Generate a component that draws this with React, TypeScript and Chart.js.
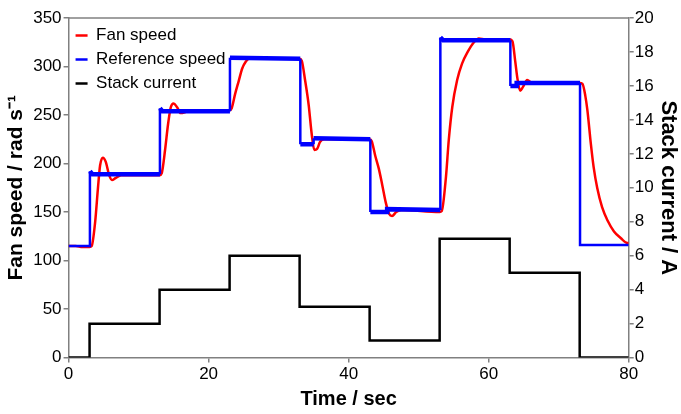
import React, { useEffect, useRef } from "react";
import { Chart, registerables } from "chart.js";

Chart.register(...registerables);

// Fan speed (red)
const fanTime = [0, 1, 2, 3, 3.3, 3.8, 4.2, 4.5, 4.9, 5.3, 5.8, 6.2, 6.7, 7.5, 13, 13.3, 13.8, 14.2, 14.6, 15.0, 15.5, 16.0, 16.7, 17.5, 23.0, 23.3, 23.8, 24.3, 24.8, 25.3, 25.8, 33.0, 33.3, 33.8, 34.3, 34.7, 35.1, 35.5, 35.9, 36.5, 43.0, 43.3, 43.8, 44.3, 44.8, 45.3, 45.8, 46.2, 46.8, 47.5, 53.0, 53.3, 53.9, 54.3, 54.8, 55.5, 56.2, 57.0, 57.9, 58.6, 59.5, 63.0, 63.4, 63.8, 64.1, 64.5, 64.9, 65.5, 66.2, 73.0, 73.4, 73.8, 74.1, 74.6, 75.0, 75.5, 76.2, 77.0, 77.9, 78.9, 79.8, 80];
const fanSpeed = [115, 115, 114, 114, 115, 140, 175, 198, 206, 202, 188, 183, 185, 188, 188, 190, 215, 240, 258, 262, 258, 252, 253, 255, 255, 257, 272, 285, 298, 305, 308, 308, 306, 285, 260, 232, 214, 215, 222, 225, 225, 223, 208, 195, 178, 160, 148, 146, 150, 152, 150, 151, 186, 224, 258, 286, 303, 315, 325, 329, 328, 328, 326, 305, 288, 275, 279, 286, 283, 283, 282, 270, 255, 220, 196, 175, 155, 141, 130, 123, 118, 118];

// Reference speed (blue)
const refTime = [0, 3.05, 3.05, 3.4, 13.05, 13.05, 13.4, 23.05, 23.05, 33.1, 33.1, 35.0, 35.0, 43.1, 43.1, 45.5, 45.5, 53.1, 53.1, 53.5, 63.1, 63.1, 64.0, 64.0, 73.05, 73.05, 80];
const refSpeed = [115, 115, 192, 189, 189, 257, 254, 254, 309, 308, 220, 220, 226, 225, 150, 150, 153, 152, 330, 327, 327, 280, 280, 283, 283, 116, 116];

// Stack current (black, right axis)
const currentTime = [0, 3, 13, 23, 33, 43, 53, 63, 73, 80];
const currentValue = [0, 2, 4, 6, 3, 1, 7, 5, 0, 0];

const xTicks = [0, 20, 40, 60, 80];

const frame = {
  id: "frame",
  afterDraw(chart: any) {
    const { ctx, chartArea } = chart;
    ctx.save();
    ctx.strokeStyle = "#808080";
    ctx.lineWidth = 1.5;
    ctx.beginPath();
    ctx.moveTo(chartArea.left, chartArea.top);
    ctx.lineTo(chartArea.right, chartArea.top);
    ctx.stroke();
    ctx.restore();
  },
};

export default function App() {
  const ref = useRef<HTMLCanvasElement>(null);
  useEffect(() => {
    const font = "'Liberation Sans', Arial, sans-serif";
    const axisGrid = {
      display: true,
      drawOnChartArea: false,
      drawTicks: true,
      tickLength: 5,
      color: "#808080",
      lineWidth: 1.5,
    };
    const border = { display: true, color: "#808080", width: 1.5 };
    const chart = new Chart(ref.current!, {
      type: "line",
      data: {
        datasets: [
          {
            label: "Fan speed",
            data: fanTime.map((x, i) => ({ x, y: fanSpeed[i] })),
            borderColor: "#ff0000",
            backgroundColor: "#ff0000",
            borderWidth: 2.5,
            pointRadius: 0,
            cubicInterpolationMode: "monotone",
            yAxisID: "y",
            order: 1,
          },
          {
            label: "Reference speed",
            data: refTime.map((x, i) => ({ x, y: refSpeed[i] })),
            borderColor: "#0000ff",
            backgroundColor: "#0000ff",
            borderWidth: 2.5,
            pointRadius: 0,
            yAxisID: "y",
            order: 0,
            segment: {
              borderWidth: (c: any) =>
                Math.abs(c.p0.parsed.y - c.p1.parsed.y) < 5 && c.p0.parsed.y > 120 ? 4.5 : 2.5,
            },
          },
          {
            label: "Stack current",
            data: currentTime.map((x, i) => ({ x, y: currentValue[i] })),
            borderColor: "#000000",
            backgroundColor: "#000000",
            borderWidth: 2.5,
            pointRadius: 0,
            stepped: "before",
            yAxisID: "y1",
            order: 2,
          },
        ],
      },
      options: {
        animation: false,
        responsive: false,
        layout: { padding: { top: 18, right: 0, left: 4, bottom: 3 } },
        plugins: {
          tooltip: { enabled: false },
          legend: {
            position: "chartArea",
            align: "start",
            title: { display: true, text: "", font: { size: 10 }, padding: { top: 8, bottom: 0 } },
            labels: {
              usePointStyle: true,
              pointStyle: "line",
              pointStyleWidth: 12,
              color: "#000",
              font: { family: font, size: 17 },
              padding: 7,
              sort: (a: any, b: any) => a.datasetIndex - b.datasetIndex,
            },
          },
        },
        scales: {
          x: {
            type: "linear",
            min: 0,
            max: 80,
            afterBuildTicks: (axis: any) => {
              axis.ticks = xTicks.map((v) => ({ value: v }));
            },
            ticks: { color: "#000", font: { family: font, size: 17 }, padding: 2 },
            grid: axisGrid,
            border,
            title: {
              display: true,
              text: "Time / sec",
              color: "#000",
              font: { family: font, size: 20, weight: "bold" },
              padding: { top: 0, bottom: 0 },
            },
          },
          y: {
            position: "left",
            min: 0,
            max: 350,
            ticks: { stepSize: 50, color: "#000", font: { family: font, size: 17 }, padding: 2 },
            grid: axisGrid,
            border,
            title: {
              display: true,
              text: "Fan speed / rad s\u207B\u00B9",
              color: "#000",
              font: { family: font, size: 21, weight: "bold" },
              padding: { top: 0, bottom: 2 },
            },
          },
          y1: {
            position: "right",
            min: 0,
            max: 20,
            ticks: { stepSize: 2, color: "#000", font: { family: font, size: 17 }, padding: 1 },
            grid: axisGrid,
            border,
            title: {
              display: true,
              text: "Stack current / A",
              color: "#000",
              font: { family: font, size: 22, weight: "bold" },
              padding: { top: 0, bottom: 0 },
            },
          },
        },
      },
      plugins: [frame],
    } as any);
    return () => chart.destroy();
  }, []);
  return (
    <div style={{ position: "absolute", left: 0, top: 0, width: 681, height: 414, background: "#fff" }}>
      <canvas ref={ref} width={681} height={414} />
    </div>
  );
}
